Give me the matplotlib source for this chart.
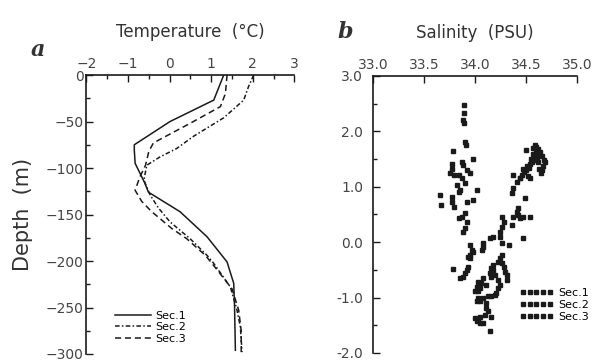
import matplotlib
matplotlib.use('Agg')
import matplotlib.pyplot as plt
from matplotlib.ticker import MultipleLocator, FormatStrFormatter

# --- panel a: temperature profiles ---
depth_sec1 = [0, -27, -50, -75, -81, -95, -116, -126, -147, -174, -201, -224, -249, -296]
temp_sec1 = [1.30, 1.06, 0.01, -0.85, -0.85, -0.83, -0.60, -0.51, 0.25, 0.90, 1.38, 1.54, 1.56, 1.58]

depth_sec2 = [0, -12, -27, -46, -66, -79, -88, -97, -113, -129, -143, -158, -176, -194, -202, -228, -253, -271, -298]
temp_sec2 = [2.02, 1.90, 1.78, 1.30, 0.57, 0.17, -0.23, -0.55, -0.62, -0.47, -0.27, 0.01, 0.49, 0.90, 1.05, 1.46, 1.62, 1.70, 1.74]

depth_sec3 = [0, -20, -34, -52, -73, -82, -97, -110, -124, -136, -147, -156, -165, -176, -194, -210, -230, -253, -275, -298]
temp_sec3 = [1.38, 1.34, 1.22, 0.49, -0.39, -0.50, -0.58, -0.72, -0.83, -0.67, -0.43, -0.19, 0.05, 0.41, 0.86, 1.15, 1.50, 1.66, 1.72, 1.72]

# --- panel b: salinity scatter ---
sal_sec1 = [33.895, 33.895, 33.887, 33.895, 33.90, 33.91, 33.78, 33.98, 33.87, 33.885,
            33.92, 33.95, 33.77, 33.77, 33.755, 33.84, 33.87, 33.79, 33.90, 33.82,
            33.85, 33.84, 34.02, 33.66, 33.67, 33.77, 33.77, 33.79, 33.92, 33.98,
            33.84, 33.87, 33.90, 33.92, 33.90, 33.885]
th_sec1 = [2.48, 2.33, 2.21, 2.15, 1.81, 1.75, 1.65, 1.51, 1.45, 1.39,
           1.30, 1.24, 1.42, 1.33, 1.24, 1.21, 1.15, 1.21, 1.06, 1.03,
           0.94, 0.91, 0.94, 0.85, 0.67, 0.82, 0.73, 0.64, 0.73, 0.76,
           0.43, 0.46, 0.52, 0.37, 0.25, 0.19]

sal_sec2 = [34.375, 34.44, 34.41, 34.375, 34.36, 34.49, 34.42, 34.41, 34.42, 34.375,
            34.44, 34.47, 34.54, 34.36, 34.26, 34.28, 34.26, 34.245, 34.245, 34.47,
            34.33, 34.26, 34.26, 34.245, 34.15, 34.18,
            34.44, 34.46, 34.48, 34.47, 34.50, 34.51, 34.53, 34.54, 34.56, 34.55,
            34.58, 34.59, 34.61, 34.57, 34.60, 34.63, 34.62, 34.64, 34.60, 34.66,
            34.68, 34.67, 34.63, 34.69, 34.59, 34.52, 34.54, 34.65, 34.50, 34.57,
            34.62, 34.66]
th_sec2 = [1.21, 1.15, 1.09, 0.97, 0.88, 0.79, 0.61, 0.55, 0.49, 0.46,
           0.43, 0.46, 0.45, 0.31, 0.46, 0.37, 0.28, 0.19, 0.10, 0.07,
           -0.05, -0.02, -0.23, -0.29, 0.07, 0.10,
           1.15, 1.22, 1.26, 1.32, 1.30, 1.38, 1.34, 1.42, 1.45, 1.50,
           1.48, 1.55, 1.52, 1.60, 1.64, 1.58, 1.68, 1.62, 1.72, 1.55,
           1.48, 1.38, 1.32, 1.45, 1.75, 1.20, 1.16, 1.25, 1.66, 1.70,
           1.44, 1.30]

sal_sec3 = [34.08, 34.07, 34.08, 33.95, 33.97, 33.95, 33.93, 33.98, 34.26, 34.23,
            33.78, 33.85, 33.885, 33.90, 33.92, 33.93, 33.95, 34.03, 34.02, 34.05,
            34.03, 34.08, 34.11, 34.06, 34.15, 34.16, 34.20, 34.18, 34.16, 34.18,
            34.23, 34.245, 34.23, 34.21, 34.28, 34.29, 34.31, 34.31, 34.03, 34.05,
            34.08, 34.13, 34.16, 34.20, 34.11, 34.11, 34.13, 34.10, 34.05, 34.00,
            34.03, 34.05, 34.08, 34.02, 34.16, 34.15, 34.02, 34.00]
th_sec3 = [-0.02, -0.14, -0.08, -0.05, -0.14, -0.23, -0.26, -0.17, -0.38, -0.35,
           -0.48, -0.65, -0.62, -0.56, -0.50, -0.44, -0.29, -0.71, -0.80, -0.83,
           -0.89, -0.65, -0.77, -0.74, -0.56, -0.62, -0.59, -0.50, -0.47, -0.41,
           -0.68, -0.77, -0.83, -0.92, -0.44, -0.53, -0.59, -0.68, -1.01, -1.07,
           -1.01, -0.98, -0.98, -0.95, -1.10, -1.19, -1.25, -1.31, -1.35, -1.37,
           -1.40, -1.46, -1.46, -1.43, -1.35, -1.61, -1.07, -0.89]

ink = '#1a1a1a'
grey = '#444444'

fig = plt.figure(figsize=(6.03, 3.62), dpi=100)
ax_a = fig.add_axes([0.1434, 0.0221, 0.3449, 0.7707])
ax_b = fig.add_axes([0.6186, 0.0249, 0.3383, 0.7652])


def style_axis(ax):
    for side in ('right', 'bottom'):
        ax.spines[side].set_visible(False)
    for side in ('left', 'top'):
        ax.spines[side].set_linewidth(1.2)
        ax.spines[side].set_color(ink)
    ax.xaxis.tick_top()
    ax.xaxis.set_label_position('top')
    ax.tick_params(which='both', direction='in', colors=ink, labelcolor=grey,
                   labelsize=10, top=True, bottom=False, left=True, right=False)
    ax.tick_params(which='major', length=5, width=1)
    ax.tick_params(which='minor', length=3, width=1)


# panel a
ax_a.plot(temp_sec1, depth_sec1, color=ink, lw=1.1, ls='-', label='Sec.1')
ax_a.plot(temp_sec2, depth_sec2, color=ink, lw=1.1, ls=(0, (3, 1.5, 1, 1.5)), label='Sec.2')
ax_a.plot(temp_sec3, depth_sec3, color=ink, lw=1.1, ls=(0, (4, 2.5)), label='Sec.3')
ax_a.set_xlim(-2, 3)
ax_a.set_ylim(-300, 0)
ax_a.xaxis.set_major_locator(MultipleLocator(1))
ax_a.xaxis.set_minor_locator(MultipleLocator(0.5))
ax_a.yaxis.set_major_locator(MultipleLocator(50))
ax_a.yaxis.set_minor_locator(MultipleLocator(25))
style_axis(ax_a)
ax_a.tick_params(axis='x', pad=3)
ax_a.tick_params(axis='y', pad=2)
ax_a.set_xlabel('Temperature  (°C)', fontsize=12, color='#333333', labelpad=14)
ax_a.set_ylabel('Depth  (m)', fontsize=15, color='#333333', labelpad=9)
ax_a.legend(loc='lower left', bbox_to_anchor=(0.09, 0.0), frameon=False, fontsize=8,
            handlelength=3.2, labelspacing=0.15, handletextpad=0.4)

# panel b
ax_b.plot(sal_sec1, th_sec1, ls='none', marker='s', ms=2.4, color=ink, label='Sec.1')
ax_b.plot(sal_sec2, th_sec2, ls='none', marker='s', ms=2.4, color=ink, label='Sec.2')
ax_b.plot(sal_sec3, th_sec3, ls='none', marker='s', ms=2.4, color=ink, label='Sec.3')
ax_b.set_xlim(33.0, 35.0)
ax_b.set_ylim(-2.0, 3.0)
ax_b.xaxis.set_major_locator(MultipleLocator(0.5))
ax_b.yaxis.set_major_locator(MultipleLocator(1.0))
ax_b.yaxis.set_minor_locator(MultipleLocator(0.5))
ax_b.xaxis.set_major_formatter(FormatStrFormatter('%.1f'))
ax_b.yaxis.set_major_formatter(FormatStrFormatter('%.1f'))
style_axis(ax_b)
ax_b.tick_params(axis='x', pad=3)
ax_b.tick_params(axis='y', pad=7)
ax_b.set_xlabel('Salinity  (PSU)', fontsize=12, color='#333333', labelpad=14)
ax_b.legend(loc='lower left', bbox_to_anchor=(0.67, 0.075), frameon=False, fontsize=8,
            numpoints=5, handlelength=3.0, labelspacing=0.2, handletextpad=0.5)

# panel letters
fig.text(38 / 603, 1 - 50 / 362, 'a', fontsize=16, family='DejaVu Serif', style='italic',
         weight='bold', color='#333333', ha='center', va='center')
fig.text(345 / 603, 1 - 32 / 362, 'b', fontsize=16, family='DejaVu Serif', style='italic',
         weight='bold', color='#333333', ha='center', va='center')

fig.savefig('out.png', dpi=100)
